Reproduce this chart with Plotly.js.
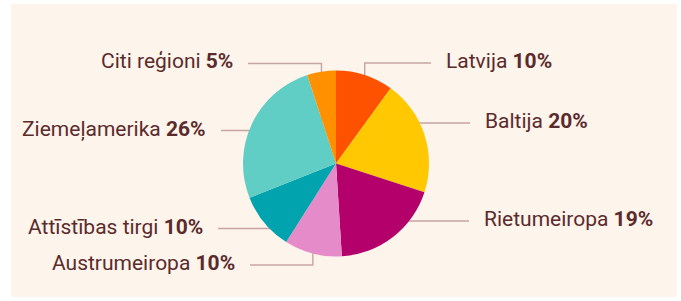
<!DOCTYPE html>
<html>
<head>
<meta charset="utf-8">
<script src="https://cdn.plot.ly/plotly-3.0.1.min.js"></script>
<style>
  html, body { margin: 0; padding: 0; background: #ffffff; }
  #chart { width: 681px; height: 301px; }
</style>
</head>
<body>
<div id="chart"></div>
<script>
// ---- data ----
const regions = ["Latvija", "Baltija", "Rietumeiropa", "Austrumeiropa", "Attīstības tirgi", "Ziemeļamerika", "Citi reģioni"];
const shares = [10, 20, 19, 10, 10, 26, 5];
const sliceColors = ["#FF5200", "#FFC800", "#B3006A", "#E68BC9", "#00A3AE", "#60CEC5", "#FF9100"];

// ---- layout config (pixels) ----
const W = 681, H = 301;
const CX = 336, CY = 163.5, R = 93;
// label anchor: side, text edge x, connector line y
const labelLayout = [
  {side: "r", x: 444, y: 63},
  {side: "r", x: 483, y: 123},
  {side: "r", x: 482, y: 221},
  {side: "l", x: 237, y: 265},
  {side: "l", x: 205, y: 228.5},
  {side: "l", x: 208, y: 130.5},
  {side: "l", x: 235, y: 63.5}
];
const GAP = 13;
const textColor = "#5b2b2c";
const lineColor = "#c6a5a3";

const px = x => x / W;
const py = y => 1 - y / H;

const total = shares.reduce((a, b) => a + b, 0);
let cum = 0;
const annotations = [];
const shapes = [
  {type: "rect", xref: "paper", yref: "paper", x0: px(11), x1: px(677), y0: py(297), y1: py(4),
   fillcolor: "#fdf4eb", line: {width: 0}, layer: "below"}
];

regions.forEach((name, i) => {
  const mid = (cum + shares[i] / 2) / total * 2 * Math.PI;
  cum += shares[i];
  const ex = CX + R * Math.sin(mid);
  const L = labelLayout[i];
  const lineEnd = L.side === "r" ? L.x - GAP : L.x + GAP;
  const elbow = Math.abs(L.y - CY) > R * 0.8;
  if (elbow) {
    shapes.push({type: "path", xref: "paper", yref: "paper", layer: "below",
      path: `M ${px(lineEnd)} ${py(L.y)} L ${px(ex)} ${py(L.y)} L ${px(ex)} ${py(CY)}`,
      line: {color: lineColor, width: 1.4}});
  } else {
    shapes.push({type: "line", xref: "paper", yref: "paper", layer: "below",
      x0: px(lineEnd), y0: py(L.y), x1: px(CX), y1: py(L.y),
      line: {color: lineColor, width: 1.4}});
  }
  annotations.push({
    xref: "paper", yref: "paper",
    x: px(L.x), y: py(L.y - 2),
    xanchor: L.side === "r" ? "left" : "right", yanchor: "middle",
    text: `${name} <b>${shares[i]}%</b>`,
    showarrow: false,
    font: {family: "Roboto, sans-serif", size: 21, color: textColor}
  });
});

const trace = {
  type: "pie",
  labels: regions,
  values: shares,
  sort: false,
  direction: "clockwise",
  rotation: 0,
  textinfo: "none",
  hoverinfo: "skip",
  showlegend: false,
  marker: {colors: sliceColors, line: {width: 0}},
  domain: {x: [px(CX - R), px(CX + R)], y: [py(CY + R), py(CY - R)]}
};

const layout = {
  width: W, height: H,
  margin: {l: 0, r: 0, t: 0, b: 0},
  paper_bgcolor: "#ffffff",
  showlegend: false,
  shapes: shapes,
  annotations: annotations
};

Plotly.newPlot("chart", [trace], layout, {displayModeBar: false, staticPlot: true});
</script>
</body>
</html>
